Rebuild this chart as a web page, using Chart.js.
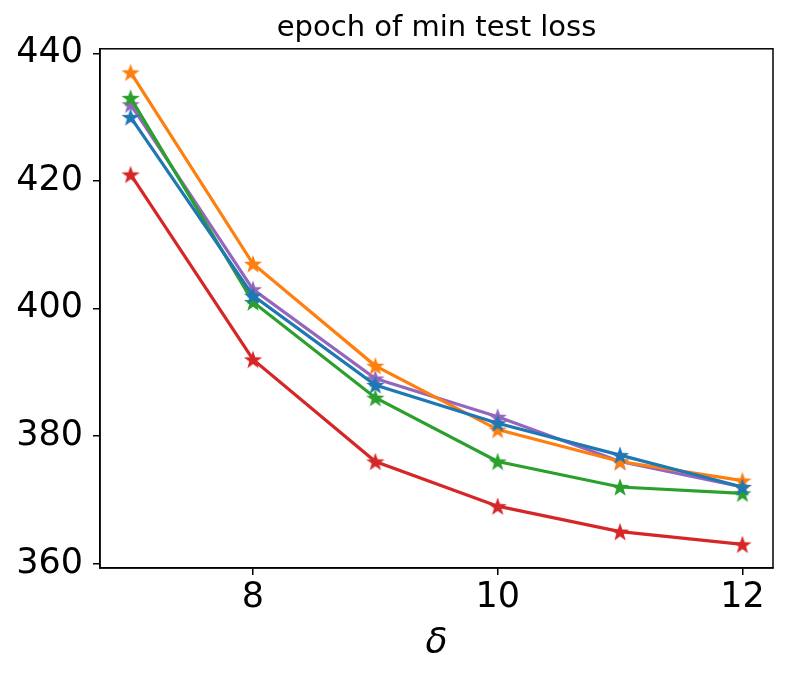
<!DOCTYPE html>
<html>
<head>
<meta charset="utf-8">
<script src="https://cdn.jsdelivr.net/npm/chart.js@4.4.1/dist/chart.umd.min.js"></script>
<style>
  html, body { margin: 0; padding: 0; background: #fff; }
  #wrap { width: 796px; height: 679px; }
</style>
</head>
<body>
<div id="wrap"><canvas id="chart" width="796" height="679"></canvas></div>
<script>
// x values (delta)
const deltas = [7, 8, 9, 10, 11, 12];

// epoch of min test loss, one list per run
const runBlue   = [430, 402, 388, 382, 377, 372];
const runOrange = [437, 407, 391, 381, 376, 373];
const runGreen  = [433, 401, 386, 376, 372, 371];
const runRed    = [421, 392, 376, 369, 365, 363];
const runPurple = [432, 403, 389, 383, 376, 372];

const xTicks = [8, 10, 12];
const yTicks = [360, 380, 400, 420, 440];

const colors = ["#1f77b4", "#ff7f0e", "#2ca02c", "#d62728", "#9467bd"];

// filled five point star, like matplotlib's '*' marker
function starMarker(color) {
    const size = 22;
    const c = document.createElement("canvas");
    c.width = size; c.height = size;
    const ctx = c.getContext("2d");
    const cx = size / 2, cy = size / 2 + 0.9, R = 9.6, r = 3.9;
    ctx.beginPath();
    for (let i = 0; i < 10; i++) {
        const a = -Math.PI / 2 + i * Math.PI / 5;
        const rad = i % 2 === 0 ? R : r;
        ctx.lineTo(cx + rad * Math.cos(a), cy + rad * Math.sin(a));
    }
    ctx.closePath();
    ctx.fillStyle = color;
    ctx.fill();
    return c;
}

const series = [runBlue, runOrange, runGreen, runRed, runPurple];

const datasets = series.map((vals, i) => ({
    data: deltas.map((d, j) => ({ x: d, y: vals[j] })),
    borderColor: colors[i],
    backgroundColor: colors[i],
    borderWidth: 3.2,
    pointStyle: starMarker(colors[i]),
    pointRadius: 10,
    pointHoverRadius: 10,
    tension: 0,
}));

// top and right spines
const frame = {
    id: "frame",
    afterDraw(chart) {
        const { ctx, chartArea: a } = chart;
        ctx.save();
        ctx.strokeStyle = "#000";
        ctx.lineWidth = 1.5;
        ctx.strokeRect(a.left, a.top, a.right - a.left, a.bottom - a.top);
        ctx.restore();
    }
};

const tickFont = { family: "DejaVu Sans", size: 35 };

new Chart(document.getElementById("chart"), {
    type: "line",
    data: { datasets },
    plugins: [frame],
    options: {
        responsive: false,
        animation: false,
        layout: { padding: { left: 0, right: 23, top: 0, bottom: 0 } },
        plugins: {
            legend: { display: false },
            tooltip: { enabled: false },
            title: {
                display: true,
                text: "epoch of min test loss",
                color: "#000",
                fullSize: false,
                font: { family: "DejaVu Sans", size: 29, weight: "normal" },
                padding: { top: 11, bottom: 3 },
            },
        },
        scales: {
            x: {
                type: "linear",
                min: 6.75,
                max: 12.25,
                afterBuildTicks: s => { s.ticks = xTicks.map(v => ({ value: v })); },
                afterFit: s => { s.height = 111; },
                grid: { display: true, drawOnChartArea: false, drawTicks: true, tickLength: 7, color: "#000", lineWidth: 1.5 },
                border: { display: true, color: "#000", width: 1.5 },
                ticks: { color: "#000", font: tickFont, padding: 2, maxRotation: 0 },
                title: {
                    display: true,
                    text: "δ",
                    color: "#000",
                    font: { family: "DejaVu Sans", size: 36, style: "italic" },
                    padding: { top: 0, bottom: 14 },
                },
            },
            y: {
                type: "linear",
                min: 359.3,
                max: 440.7,
                afterBuildTicks: s => { s.ticks = yTicks.map(v => ({ value: v })); },
                afterFit: s => { s.width = 100; },
                grid: { display: true, drawOnChartArea: false, drawTicks: true, tickLength: 7, color: "#000", lineWidth: 1.5 },
                border: { display: true, color: "#000", width: 1.5 },
                ticks: { color: "#000", font: tickFont, padding: 10 },
            },
        },
    },
});
</script>
</body>
</html>
